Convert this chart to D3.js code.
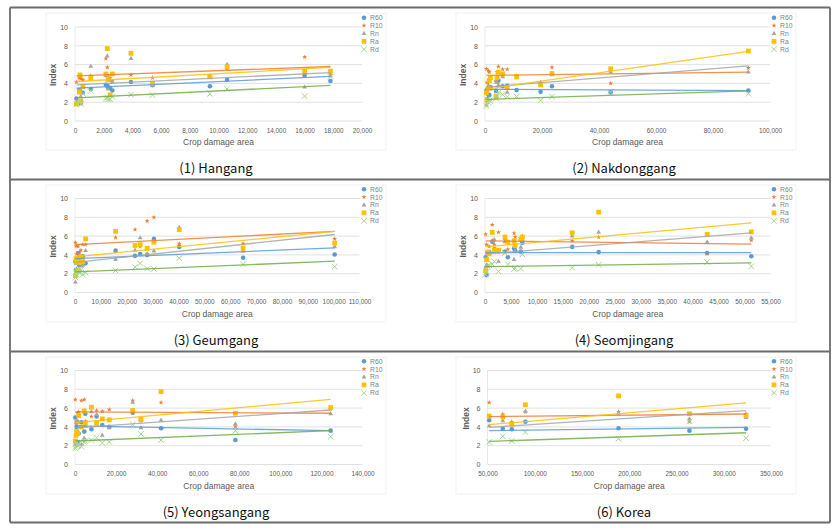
<!DOCTYPE html>
<html>
<head>
<meta charset="utf-8">
<script src="https://cdn.jsdelivr.net/npm/d3@7"></script>
<style>
  body { margin: 0; background: #fff; }
  svg { display: block; }
</style>
</head>
<body>
<svg id="fig" width="838" height="531"></svg>
<script>
// ---- data ----
const seriesNames = ["R60", "R10", "Rn", "Ra", "Rd"];
const yTicks = [0, 2, 4, 6, 8, 10];

// (1) Hangang
const hangangArea = [100, 300, 350, 400, 550, 1100, 2150, 2250, 2300, 2450, 2600, 3900, 5400, 9400, 10600, 16000, 17800];
const hangangR60 = [2.4, 3.3, 3.2, 1.9, 3.0, 3.4, 3.85, 3.75, 3.6, 3.5, 3.25, 4.15, 3.8, 3.7, 4.4, 4.85, 4.25];
const hangangR10 = [4.15, 4.6, 4.6, 4.5, 4.4, 4.8, 6.65, 5.7, 4.85, 4.6, 4.25, 4.9, 4.6, 4.75, 5.6, 6.8, 5.05];
const hangangRn = [2.0, 3.0, 3.2, 2.6, 3.6, 5.8, 4.8, 6.9, 3.4, 4.3, 4.15, 6.65, 3.8, 4.8, 6.0, 3.6, 4.8];
const hangangRa = [1.8, 3.1, 4.9, 2.1, 3.7, 4.6, 5.0, 7.7, 4.4, 2.8, 5.0, 7.2, 4.0, 4.7, 5.75, 5.3, 5.3];
const hangangRd = [1.8, 2.0, 2.2, 1.8, 2.9, 3.2, 2.4, 2.5, 2.3, 2.3, 2.6, 2.8, 2.75, 2.9, 3.4, 2.65, 4.7];
const hangangTrend = [[3.5, 4.75], [4.8, 5.8], [3.85, 5.15], [4.2, 5.7], [2.45, 3.8]];
const hangangTicks = [0, 2000, 4000, 6000, 8000, 10000, 12000, 14000, 16000, 18000, 20000];

// (2) Nakdonggang
const nakdongArea = [500, 700, 1200, 1500, 1900, 3900, 4200, 4700, 6200, 7800, 11100, 19500, 23500, 44100, 92400];
const nakdongR60 = [3.2, 2.3, 2.8, 2.75, 3.6, 3.2, 4.2, 4.3, 3.7, 3.75, 3.3, 3.1, 3.7, 3.05, 3.25];
const nakdongR10 = [5.55, 4.1, 5.35, 5.2, 4.6, 4.25, 5.2, 5.8, 5.5, 5.5, 4.8, 3.8, 5.7, 4.0, 5.65];
const nakdongRn = [1.7, 3.5, 3.8, 4.2, 3.4, 4.3, 4.1, 3.8, 4.7, 3.05, 4.6, 4.1, 4.9, 5.2, 5.2];
const nakdongRa = [3.0, 2.2, 3.5, 4.3, 4.6, 2.6, 4.6, 5.2, 5.0, 3.55, 4.7, 3.85, 5.05, 5.55, 7.45];
const nakdongRd = [1.6, 2.3, 2.0, 2.2, 2.1, 2.4, 2.7, 3.0, 2.8, 2.6, 2.6, 2.2, 2.6, 3.1, 2.9];
const nakdongTrend = [[3.38, 3.24], [4.85, 5.2], [3.6, 5.87], [3.4, 7.4], [2.3, 3.2]];
const nakdongTicks = [0, 20000, 40000, 60000, 80000, 100000];

// (3) Geumgang
const geumArea = [150, 400, 650, 1200, 1700, 2300, 3000, 4100, 15700, 23200, 25200, 27900, 30500, 40300, 65000, 100400];
const geumR60 = [3.3, 2.4, 3.3, 4.2, 2.9, 3.2, 3.85, 3.1, 4.45, 3.9, 4.1, 4.0, 5.7, 4.85, 3.7, 4.05];
const geumR10 = [5.3, 4.95, 4.1, 4.9, 4.3, 4.5, 5.1, 5.1, 5.85, 6.7, 4.9, 7.6, 8.0, 5.2, 5.2, 5.7];
const geumRn = [1.1, 3.1, 2.5, 3.8, 3.5, 2.8, 2.9, 4.45, 3.5, 4.5, 5.8, 4.1, 4.4, 6.9, 4.4, 4.85];
const geumRa = [1.8, 3.6, 3.3, 2.3, 3.2, 3.8, 3.3, 5.7, 6.5, 5.0, 5.1, 4.7, 5.35, 6.7, 4.7, 5.25];
const geumRd = [1.6, 2.2, 1.9, 2.3, 2.1, 2.4, 1.9, 2.1, 2.35, 2.7, 3.1, 2.55, 2.5, 3.65, 3.0, 2.75];
const geumTrend = [[3.6, 4.75], [5.1, 6.5], [3.2, 6.17], [3.8, 6.5], [2.2, 3.33]];
const geumTicks = [0, 10000, 20000, 30000, 40000, 50000, 60000, 70000, 80000, 90000, 100000, 110000];

// (4) Seomjingang
const seomArea = [130, 300, 500, 800, 1400, 1800, 2600, 3850, 4400, 5600, 5800, 6900, 7200, 16800, 21900, 42800, 51300];
const seomR60 = [3.75, 1.85, 4.2, 4.3, 5.4, 4.6, 4.4, 4.35, 3.75, 4.7, 4.5, 4.35, 5.3, 4.85, 4.3, 4.2, 3.85];
const seomR10 = [6.2, 5.1, 4.15, 4.9, 7.2, 5.1, 6.4, 5.6, 4.6, 6.3, 5.9, 5.6, 6.0, 5.5, 5.9, 4.15, 5.55];
const seomRn = [2.7, 2.9, 2.8, 4.3, 5.5, 5.6, 3.3, 5.4, 5.3, 3.5, 4.4, 4.8, 5.6, 6.0, 6.4, 5.35, 5.8];
const seomRa = [2.3, 3.5, 4.3, 4.1, 6.4, 4.5, 4.5, 5.9, 5.35, 5.5, 5.0, 5.7, 5.9, 6.35, 8.55, 6.2, 6.45];
const seomRd = [1.9, 2.2, 2.8, 2.9, 3.0, 3.3, 2.25, 4.2, 3.0, 2.5, 2.6, 2.55, 4.05, 2.65, 2.95, 3.25, 2.8];
const seomTrend = [[4.25, 4.25], [5.5, 5.15], [4.1, 6.35], [4.85, 7.4], [2.75, 3.15]];
const seomTicks = [0, 5000, 10000, 15000, 20000, 25000, 30000, 35000, 40000, 45000, 50000, 55000];

// (5) Yeongsangang
const yeongArea = [150, 500, 800, 1300, 1800, 3100, 4500, 5000, 8000, 10500, 13300, 16700, 28100, 32100, 41900, 78100, 124500];
const yeongR60 = [5.0, 2.3, 4.0, 2.4, 3.3, 4.5, 3.5, 5.4, 3.75, 5.1, 4.2, 4.0, 5.5, 4.7, 3.85, 2.6, 3.6];
const yeongR10 = [6.9, 4.6, 4.3, 5.5, 5.6, 6.8, 6.9, 4.6, 5.1, 5.75, 5.65, 5.85, 6.8, 4.8, 6.6, 4.05, 5.9];
const yeongRn = [2.1, 4.4, 2.3, 4.6, 4.5, 2.1, 2.8, 4.1, 5.6, 5.3, 3.1, 3.9, 6.6, 3.9, 4.7, 4.3, 5.4];
const yeongRa = [2.5, 3.1, 3.5, 3.3, 5.2, 4.0, 5.7, 4.4, 6.1, 4.4, 4.85, 4.75, 5.75, 4.8, 7.75, 5.45, 6.05];
const yeongRd = [1.7, 1.9, 2.3, 2.0, 2.2, 1.9, 2.4, 2.5, 2.6, 2.85, 2.3, 2.4, 4.25, 3.25, 2.6, 3.6, 2.95];
const yeongTrend = [[4.1, 3.6], [5.6, 5.45], [3.9, 5.8], [4.45, 6.93], [2.5, 3.6]];
const yeongTicks = [0, 20000, 40000, 60000, 80000, 100000, 120000, 140000];

// (6) Korea
const koreaArea = [51800, 66200, 75700, 90100, 188700, 263700, 323600];
const koreaR60 = [4.7, 3.8, 3.75, 4.55, 3.85, 3.6, 3.8];
const koreaR10 = [6.6, 5.35, 4.55, 5.6, 5.6, 4.55, 5.4];
const koreaRn = [4.1, 4.65, 4.35, 5.65, 5.45, 4.85, 5.0];
const koreaRa = [5.15, 5.05, 4.3, 6.35, 7.3, 5.4, 5.2];
const koreaRd = [2.4, 3.0, 2.5, 3.45, 2.75, 4.6, 2.8];
const koreaTrend = [[3.6, 3.95], [5.09, 5.37], [3.95, 5.73], [4.24, 6.55], [2.46, 3.38]];
const koreaTicks = [50000, 100000, 150000, 200000, 250000, 300000, 350000];

// ---- layout ----
const colors = {R60: "#5b9bd5", R10: "#ed7d31", Rn: "#a5a5a5", Ra: "#ffc000", Rd: "#70ad47"};
const rowTops = [7.5, 179.5, 351.5];
const plotTops = [27, 198.5, 370.5];
const plotH = 94;

const panels = [
  {title: "(1)  Hangang", area: hangangArea, vals: [hangangR60, hangangR10, hangangRn, hangangRa, hangangRd], trend: hangangTrend, ticks: hangangTicks, row: 0, col: 0, x0: 75, x1: 362},
  {title: "(2)  Nakdonggang", area: nakdongArea, vals: [nakdongR60, nakdongR10, nakdongRn, nakdongRa, nakdongRd], trend: nakdongTrend, ticks: nakdongTicks, row: 0, col: 1, x0: 485, x1: 770},
  {title: "(3)  Geumgang", area: geumArea, vals: [geumR60, geumR10, geumRn, geumRa, geumRd], trend: geumTrend, ticks: geumTicks, row: 1, col: 0, x0: 75, x1: 359.5},
  {title: "(4)  Seomjingang", area: seomArea, vals: [seomR60, seomR10, seomRn, seomRa, seomRd], trend: seomTrend, ticks: seomTicks, row: 1, col: 1, x0: 485, x1: 770.5},
  {title: "(5)  Yeongsangang", area: yeongArea, vals: [yeongR60, yeongR10, yeongRn, yeongRa, yeongRd], trend: yeongTrend, ticks: yeongTicks, row: 2, col: 0, x0: 75, x1: 362.5},
  {title: "(6)  Korea", area: koreaArea, vals: [koreaR60, koreaR10, koreaRn, koreaRa, koreaRd], trend: koreaTrend, ticks: koreaTicks, row: 2, col: 1, x0: 487.5, x1: 771}
];

const svg = d3.select("#fig");
const fmt = d3.format(",");

// outer frame: three row boxes, no vertical divider between the columns
const frame = svg.append("g").attr("stroke", "#6b6b6b").attr("stroke-width", 1.8).attr("fill", "none");
frame.append("line").attr("x1", 10).attr("x2", 10).attr("y1", 7.5).attr("y2", 522.5);
frame.append("line").attr("x1", 830).attr("x2", 830).attr("y1", 7.5).attr("y2", 522.5);
[7.5, 179.5, 351.5, 522.5].forEach(y => {
  frame.append("line").attr("x1", 10).attr("x2", 830).attr("y1", y).attr("y2", y);
});

// draw one marker for a series
function marker(g, name, cx, cy) {
  const c = colors[name];
  if (name === "R60") {
    g.append("circle").attr("cx", cx).attr("cy", cy).attr("r", 2.3).attr("fill", c);
  } else if (name === "R10") {
    g.append("path").attr("d", d3.symbol(d3.symbolStar, 8)()).attr("transform", `translate(${cx},${cy})`).attr("fill", c);
  } else if (name === "Rn") {
    g.append("path").attr("d", d3.symbol(d3.symbolTriangle, 10)()).attr("transform", `translate(${cx},${cy})`).attr("fill", c);
  } else if (name === "Ra") {
    g.append("rect").attr("x", cx - 2.4).attr("y", cy - 2.4).attr("width", 4.8).attr("height", 4.8).attr("fill", c);
  } else {
    const s = 2.8;
    g.append("path").attr("d", `M${cx - s},${cy - s}L${cx + s},${cy + s}M${cx - s},${cy + s}L${cx + s},${cy - s}`)
      .attr("stroke", "#a6d58c").attr("stroke-width", 1).attr("fill", "none");
  }
}

panels.forEach(p => {
  const top = plotTops[p.row];
  const rowTop = rowTops[p.row];
  const x = d3.scaleLinear().domain(d3.extent(p.ticks)).range([p.x0, p.x1]);
  const y = d3.scaleLinear().domain([0, 10]).range([top + plotH, top]);
  const g = svg.append("g");

  // chart area border (very faint)
  const caL = p.col === 0 ? 46 : 456;
  g.append("rect").attr("x", caL).attr("y", rowTop + 5.5).attr("width", 340).attr("height", 137)
    .attr("fill", "none").attr("stroke", "#f2f2f2").attr("stroke-width", 1);

  // gridlines
  g.append("g").selectAll("line").data(yTicks).join("line")
    .attr("x1", p.x0).attr("x2", p.x1)
    .attr("y1", d => y(d)).attr("y2", d => y(d))
    .attr("stroke", "#d9d9d9").attr("stroke-width", 0.8);
  g.append("line").attr("x1", p.x0).attr("x2", p.x0).attr("y1", y(10)).attr("y2", y(0))
    .attr("stroke", "#e3e3e3").attr("stroke-width", 0.8);

  // axes
  const yAxis = d3.axisLeft(y).tickValues(yTicks).tickSize(0).tickPadding(7);
  g.append("g").attr("transform", `translate(${p.x0},0)`).call(yAxis)
    .call(a => a.select(".domain").remove())
    .selectAll("text").attr("font-family", "Liberation Sans, Arial, sans-serif").attr("font-size", 7).attr("fill", "#595959");
  const xAxis = d3.axisBottom(x).tickValues(p.ticks).tickSize(0).tickPadding(7).tickFormat(fmt);
  g.append("g").attr("transform", `translate(0,${y(0)})`).call(xAxis)
    .call(a => a.select(".domain").remove())
    .selectAll("text").attr("font-family", "Liberation Sans, Arial, sans-serif").attr("font-size", 6.4).attr("fill", "#595959");

  // axis titles
  g.append("text").attr("transform", `translate(${p.x0 - 19},${top + plotH / 2 + 1}) rotate(-90)`)
    .attr("text-anchor", "middle").attr("font-family", "Liberation Sans, Arial, sans-serif")
    .attr("font-size", 8.5).attr("font-weight", "bold").attr("fill", "#595959").text("Index");
  g.append("text").attr("x", (p.x0 + p.x1) / 2).attr("y", y(0) + 24)
    .attr("text-anchor", "middle").attr("font-family", "Liberation Sans, Arial, sans-serif")
    .attr("font-size", 8.5).attr("fill", "#595959").text("Crop damage area");

  // points
  const pts = g.append("g");
  seriesNames.forEach((name, si) => {
    p.vals[si].forEach((v, i) => marker(pts, name, x(p.area[i]), y(v)));
  });

  // trend lines
  const xr = d3.extent(p.area);
  seriesNames.forEach((name, si) => {
    g.append("line")
      .attr("x1", x(xr[0])).attr("x2", x(xr[1]))
      .attr("y1", y(p.trend[si][0])).attr("y2", y(p.trend[si][1]))
      .attr("stroke", colors[name]).attr("stroke-width", 1.3).attr("stroke-opacity", 0.85);
  });

  // legend
  const lx = p.col === 0 ? 364 : 774;
  seriesNames.forEach((name, si) => {
    const ly = top - 9.3 + si * 7.9;
    marker(g, name, lx, ly);
    g.append("text").attr("x", lx + 6).attr("y", ly + 2.4)
      .attr("font-family", "Liberation Sans, Arial, sans-serif").attr("font-size", 6.8)
      .attr("fill", "#7f7f7f").text(name);
  });

  // caption
  g.append("text").attr("x", p.col === 0 ? 216 : 624).attr("y", rowTop + 165)
    .attr("text-anchor", "middle").attr("font-family", "Noto Sans CJK KR, Noto Sans, sans-serif")
    .attr("font-size", 13).attr("fill", "#111").text(p.title);
});
</script>
</body>
</html>
